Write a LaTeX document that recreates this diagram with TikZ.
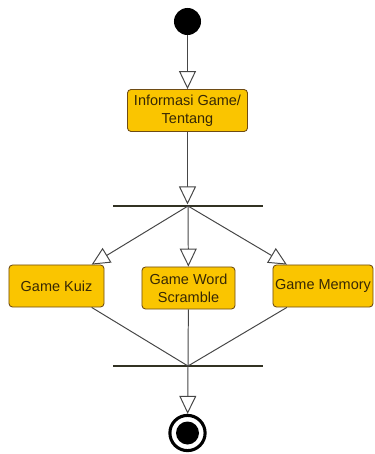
\documentclass[tikz,border=0pt]{standalone}
\usepackage{fontspec}
\setmainfont{Liberation Sans}
\usepackage{tikz}
\usetikzlibrary{arrows.meta, positioning, calc}

\definecolor{actfill}{RGB}{250,197,0}
\definecolor{actdraw}{RGB}{110,75,20}
\definecolor{acttext}{RGB}{55,40,5}
\definecolor{flowline}{RGB}{70,70,70}
\definecolor{barcol}{RGB}{50,50,35}

\begin{document}
\begin{tikzpicture}[x=0.025cm, y=-0.025cm,
    action/.style={rectangle, rounded corners=2.5pt, fill=actfill, draw=actdraw, line width=0.6pt,
      text=acttext, align=center, inner sep=0pt, minimum height=1.05cm,
      font=\fontsize{10.3}{12.6}\selectfont},
    syncbar/.style={rectangle, fill=barcol, inner sep=0pt, minimum width=3.75cm, minimum height=1.8pt},
    flow/.style={draw=flowline, line width=0.7pt},
    flowarrow/.style={flow, -{Triangle[fill=white, length=0.45cm, width=0.425cm, line width=0.7pt]}}]

      \useasboundingbox (0, 0) rectangle (375, 454);

      % start and end
      \node[circle, fill=black, inner sep=0pt, minimum size=0.675cm] (start) at (187.5, 21.5) {};
      \node[circle, fill=white, draw=black, line width=2.2pt, inner sep=0pt, minimum size=0.88cm] (stop) at (187.5, 433) {};
      \fill[black] (stop.center) circle (11.5);

      % activities
      \node[action, minimum width=3cm] (info) at (187.5, 110.5) {Informasi Game/\\Tentang};
      \node[action, minimum width=2.375cm] (kuiz) at (56.5, 286) {Game Kuiz};
      \node[action, minimum width=2.325cm] (word) at (188.5, 288) {Game Word\\Scramble};
      \node[action, minimum width=2.5cm] (memory) at (323, 286) {Game Memory};

      % fork and join
      \node[syncbar] (fork) at (188, 206) {};
      \node[syncbar] (join) at (188, 366) {};

      \draw[flowarrow] (start) -- (info);
      \draw[flowarrow] (info) -- (info |- fork.north);

      \draw[flowarrow] (fork.center) -- (kuiz);
      \draw[flowarrow] (fork.center) -- (word);
      \draw[flowarrow] (fork.center) -- (memory);

      \draw[flow] (kuiz) -- (join.center);
      \draw[flow] (word) -- (join.center);
      \draw[flow] (memory) -- (join.center);

      \draw[flowarrow] (join.center) -- (stop);

    \end{tikzpicture}
\end{document}
